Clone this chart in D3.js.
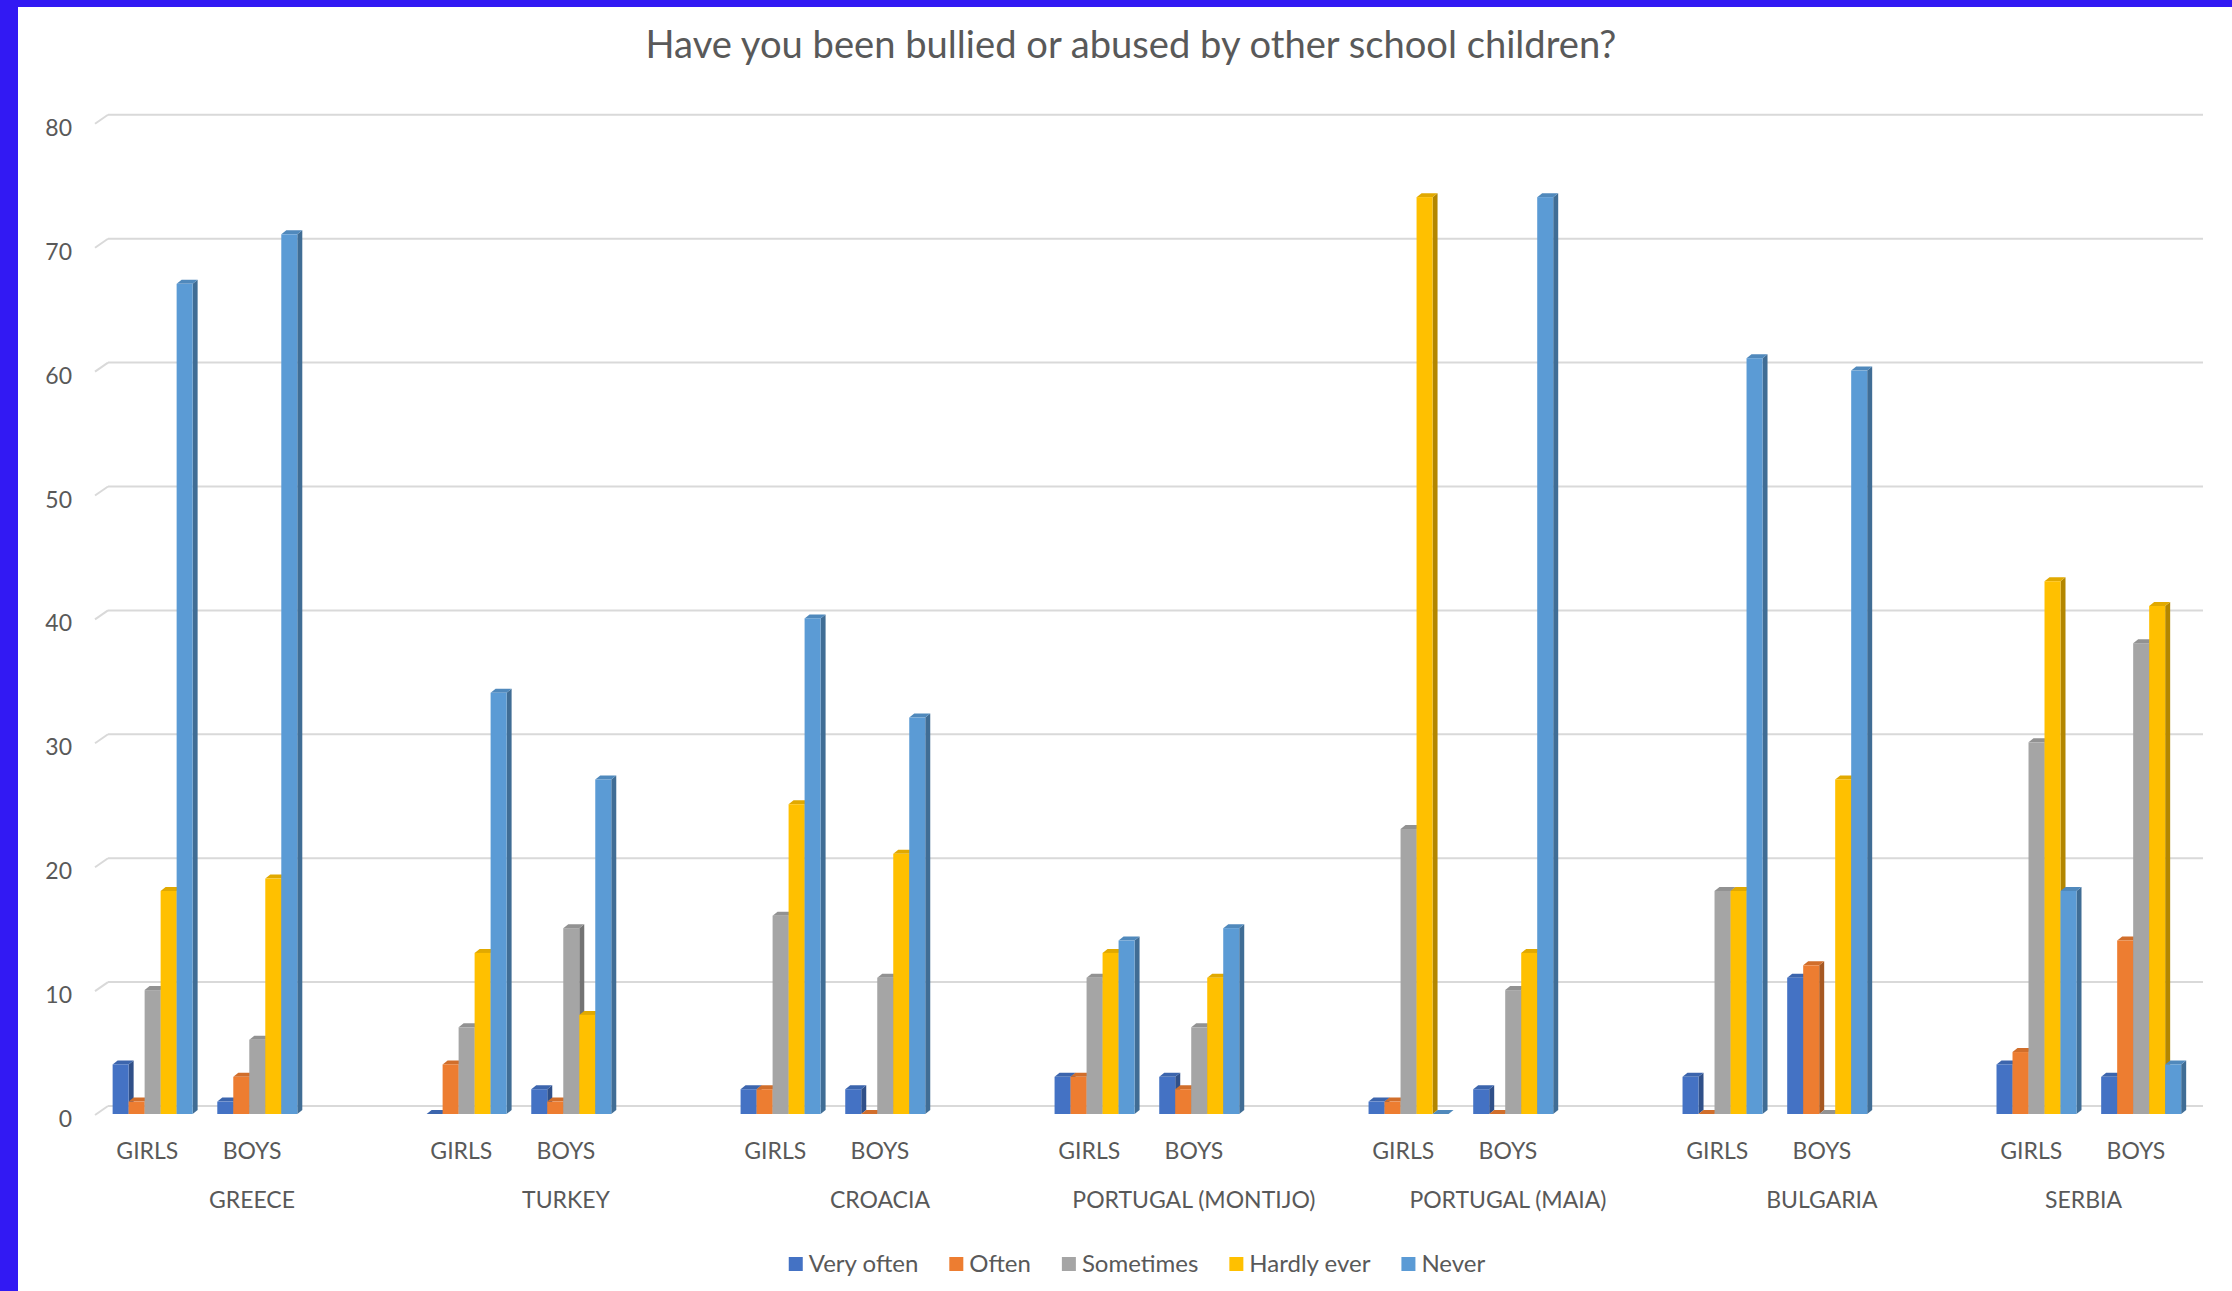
<!DOCTYPE html>
<html><head><meta charset="utf-8">
<script src="https://cdn.jsdelivr.net/npm/d3@7"></script>
<style>html,body{margin:0;padding:0;background:#fff;overflow:hidden}</style>
</head><body>
<svg id="chart" width="2232" height="1291"></svg>
<script>
// ---------------- DATA ----------------
const titleText = "Have you been bullied or abused by other school children?";
const countries = ["GREECE","TURKEY","CROACIA","PORTUGAL (MONTIJO)","PORTUGAL (MAIA)","BULGARIA","SERBIA"];
const genders = ["GIRLS","BOYS"];
const seriesNames = ["Very often","Often","Sometimes","Hardly ever","Never"];
// values per category: GREECE girls, GREECE boys, TURKEY girls, TURKEY boys, ...
const veryOften  = [4,1, 0,2, 2,2, 3,3, 1,2, 3,11, 4,3];
const often      = [1,3, 4,1, 2,0, 3,2, 1,0, 0,12, 5,14];
const sometimes  = [10,6, 7,15, 16,11, 11,7, 23,10, 18,0, 30,38];
const hardlyEver = [18,19, 13,8, 25,21, 13,11, 74,13, 18,27, 43,41];
const never      = [67,71, 34,27, 40,32, 14,15, 0,74, 61,60, 18,4];
const yTicks = [0,10,20,30,40,50,60,70,80];
const seriesColors = ["#4472C4","#ED7D31","#A5A5A5","#FFC000","#5B9BD5"];

// ---------------- LAYOUT ----------------
const W = 2232, H = 1291;
const textColor = "#595959";
const font = "Lato, 'Open Sans', sans-serif";
const svg = d3.select("#chart");
svg.append("rect").attr("width", W).attr("height", H).attr("fill", "#fff");
svg.append("rect").attr("x",0).attr("y",0).attr("width",18).attr("height",H).attr("fill","#3219F3");
svg.append("rect").attr("x",0).attr("y",0).attr("width",W).attr("height",7).attr("fill","#3219F3");

const wallDX = 13, wallDY = 9;   // 3D wall depth
const barDX = 5, barDY = 4;      // 3D bar depth
const frontOff = 8;              // bar front plane below back wall
const y = d3.scaleLinear().domain([0, 80]).range([1106, 114.8]);

// category keys with blank spacer between countries
const catKeys = [];
countries.forEach((c, i) => {
  genders.forEach(g => catKeys.push(c + "|" + g));
  if (i < countries.length - 1) catKeys.push(c + "|");
});
const x = d3.scaleBand().domain(catKeys).range([95, 2188.2]).padding(0);
const xs = d3.scaleBand().domain(seriesNames).range([-34.7, 45.3]).padding(0);

// gridlines
const grid = svg.append("g");
const xLeftBack = 95 + wallDX, xRightBack = 2203;
yTicks.forEach(t => {
  grid.append("line").attr("x1", xLeftBack).attr("x2", xRightBack)
    .attr("y1", y(t)).attr("y2", y(t))
    .attr("stroke", "#D9D9D9").attr("stroke-width", 2);
  grid.append("line").attr("x1", 95).attr("y1", y(t) + wallDY)
    .attr("x2", xLeftBack).attr("y2", y(t))
    .attr("stroke", "#D9D9D9").attr("stroke-width", 2);
});

// y axis labels
const yLab = d3.scaleLinear().domain(y.domain()).range(y.range().map(v => v + 20.5));
const yAxisG = svg.append("g").attr("transform", "translate(72,0)")
  .call(d3.axisLeft(yLab).tickValues(yTicks).tickSize(0).tickPadding(0));
yAxisG.select(".domain").remove();
yAxisG.selectAll("text").attr("dy", 0).attr("x", 0)
  .style("font-family", font).style("font-size", "23px").attr("fill", textColor);

// bars
const allSeries = [veryOften, often, sometimes, hardlyEver, never];
const barsG = svg.append("g");
for (let i = 0; i < countries.length * 2; i++) {
  const key = countries[Math.floor(i / 2)] + "|" + genders[i % 2];
  const cx = x(key) + x.bandwidth() / 2;
  allSeries.forEach((arr, s) => {
    const v = arr[i];
    const x0 = cx + xs(seriesNames[s]);
    const x1 = x0 + xs.bandwidth();
    const yTop = y(v) + frontOff, yBase = y(0) + frontOff;
    const c = d3.color(seriesColors[s]);
    const g = barsG.append("g");
    g.append("polygon")
      .attr("points", [[x1, yTop], [x1 + barDX, yTop - barDY], [x1 + barDX, yBase - barDY], [x1, yBase]].join(" "))
      .attr("fill", c.darker(1.0));
    g.append("polygon")
      .attr("points", [[x0, yTop], [x0 + barDX, yTop - barDY], [x1 + barDX, yTop - barDY], [x1, yTop]].join(" "))
      .attr("fill", c.darker(0.35));
    g.append("rect").attr("x", x0).attr("y", yTop).attr("width", x1 - x0).attr("height", yBase - yTop)
      .attr("fill", seriesColors[s]);
  });
}

// category axis (gender)
const xAxisG = svg.append("g").attr("transform", "translate(0,1159)")
  .call(d3.axisBottom(x).tickSize(0).tickPadding(0).tickFormat(k => k.split("|")[1]));
xAxisG.select(".domain").remove();
xAxisG.selectAll("text").attr("y", 0).attr("dy", 0)
  .style("font-family", font).style("font-size", "23px").attr("fill", textColor);

// country labels
countries.forEach((c, i) => {
  const keys = catKeys.filter(k => k.split("|")[0] === c);
  const x0 = x(keys[0]), x1 = x(keys[keys.length - 1]) + x.bandwidth();
  svg.append("text").attr("x", (x0 + x1) / 2).attr("y", 1208.3)
    .attr("text-anchor", "middle").style("font-family", font).style("font-size", "23px")
    .attr("fill", textColor).text(c);
});

// title
const title = svg.append("text").attr("x", 1131).attr("y", 58.3).attr("text-anchor", "middle")
  .style("font-family", font).style("font-size", "40px").attr("fill", textColor).text(titleText);
const tw = title.node().getComputedTextLength();
title.style("font-size", (40 * 971 / tw).toFixed(2) + "px");

// legend
const legend = svg.append("g");
const sq = 14, gapText = 6, gapItem = 31;
let lx = 0;
const items = [];
seriesNames.forEach((name, s) => {
  const g = legend.append("g");
  g.append("rect").attr("x", 0).attr("y", -14.7).attr("width", sq).attr("height", sq).attr("fill", seriesColors[s]);
  const t = g.append("text").attr("x", sq + gapText).attr("y", 0)
    .style("font-family", font).style("font-size", "24px").attr("fill", textColor).text(name);
  const w = sq + gapText + t.node().getComputedTextLength();
  g.attr("transform", `translate(${lx},0)`);
  lx += w + gapItem;
});
const totalW = lx - gapItem;
legend.attr("transform", `translate(${1137 - totalW / 2},1271.7)`);
</script>
</body></html>
